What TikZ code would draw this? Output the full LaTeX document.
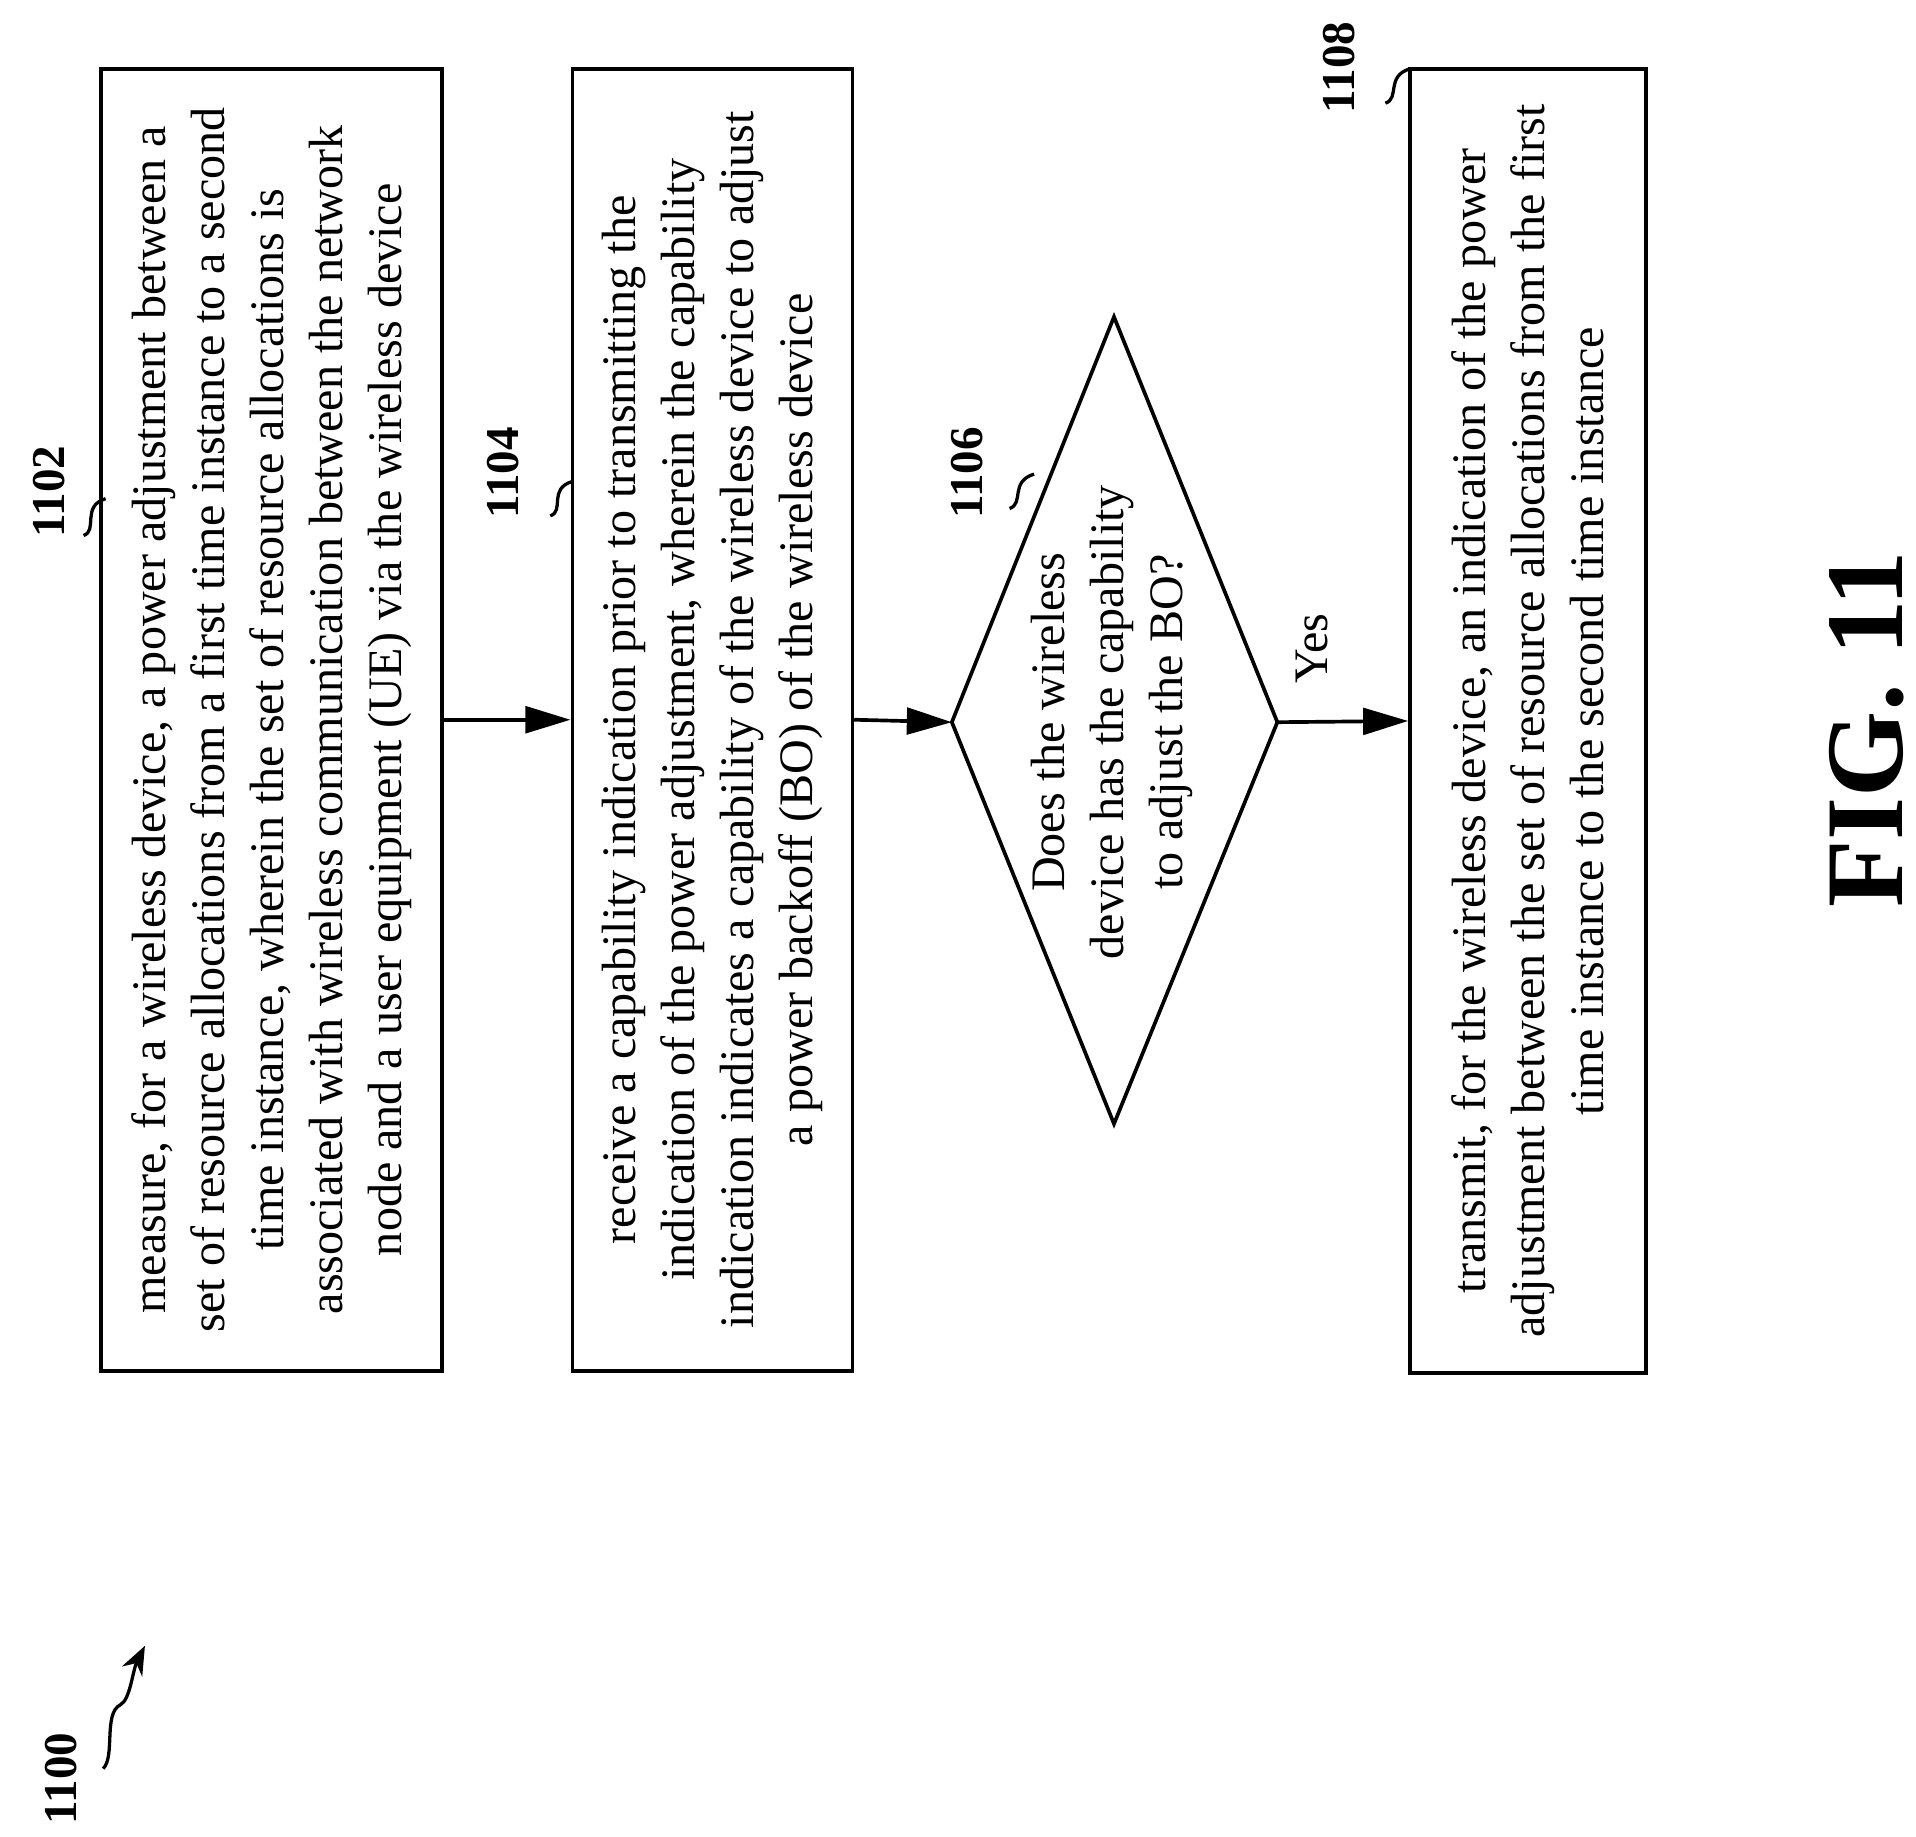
\documentclass[tikz,border=0pt]{standalone}
\usepackage{fontspec}
\setmainfont{Liberation Serif}
\usetikzlibrary{arrows.meta}
\begin{document}
\begin{tikzpicture}[x=0.6pt,y=-0.6pt,
  box/.style={draw,line width=1.8pt,rotate=90,align=center,inner sep=0pt,font=\fontsize{23.5}{28.8}\selectfont},
  lab/.style={rotate=90,font=\fontsize{23}{26}\selectfont\bfseries},
  sq/.style={line width=1.6pt},
  arr/.style={line width=1.8pt,-{Triangle[length=22pt,width=13pt]}}]
\useasboundingbox (0,0) rectangle (1560,1495);
\node[box,minimum width=1060*0.6pt,minimum height=278*0.6pt] (b1) at (221,586)
 {measure, for a wireless device, a power adjustment between a\\set of resource allocations from a first time instance to a second\\time instance, wherein the set of resource allocations is\\associated with wireless communication between the network\\node and a user equipment (UE) via the wireless device};
\node[box,minimum width=1060*0.6pt,minimum height=228*0.6pt] (b2) at (580,586)
 {receive a capability indication prior to transmitting the\\indication of the power adjustment, wherein the capability\\indication indicates a capability of the wireless device to adjust\\a power backoff (BO) of the wireless device};
\node[box,minimum width=1062*0.6pt,minimum height=192*0.6pt] (b4) at (1244,587)
 {transmit, for the wireless device, an indication of the power\\adjustment between the set of resource allocations from the first\\time instance to the second time instance};
\coordinate (dl) at (775,588); \coordinate (dr) at (1040,588);
\coordinate (dt) at (907,258); \coordinate (db) at (907,915);
\draw[line width=1.8pt,line join=miter] (dl) -- (dt) -- (dr) -- (db) -- cycle;
\node[rotate=90,align=center,font=\fontsize{23.5}{28.8}\selectfont] (dtext) at (905,588) {Does the wireless\\device has the capability\\to adjust the BO?};
\draw[arr] (b1.south) -- (b2.north);
\draw[arr] (b2.south) -- (dl);
\draw[arr] (dr) -- (b4.north);
\node[rotate=90,font=\fontsize{23.5}{26}\selectfont] (yes) at (1068,528) {Yes};
\node[lab] (l1102) at (40,400) {1102};
\node[lab] (l1104) at (410,385) {1104};
\node[lab] (l1106) at (787,385) {1106};
\node[lab] (l1108) at (1090,55) {1108};
\node[lab] (l1100) at (50,1448) {1100};
\draw[sq] (68,436) .. controls (80,432) and (66,412) .. (86,406);
\draw[sq] (448,420) .. controls (460,416) and (446,398) .. (466,392);
\draw[sq] (822,414) .. controls (834,410) and (822,392) .. (842,386);
\draw[sq] (1128,84) .. controls (1140,80) and (1128,62) .. (1148,56);
\draw[sq,-{Stealth[length=14pt,width=11pt]}] (84,1440) .. controls (94,1430) and (84,1395) .. (98,1388) .. controls (106,1384) and (108,1360) .. (118,1340);
\node[rotate=90,font=\fontsize{54}{56}\selectfont\bfseries] (fig) at (1520,594) {FIG. 11};
\end{tikzpicture}
\end{document}
